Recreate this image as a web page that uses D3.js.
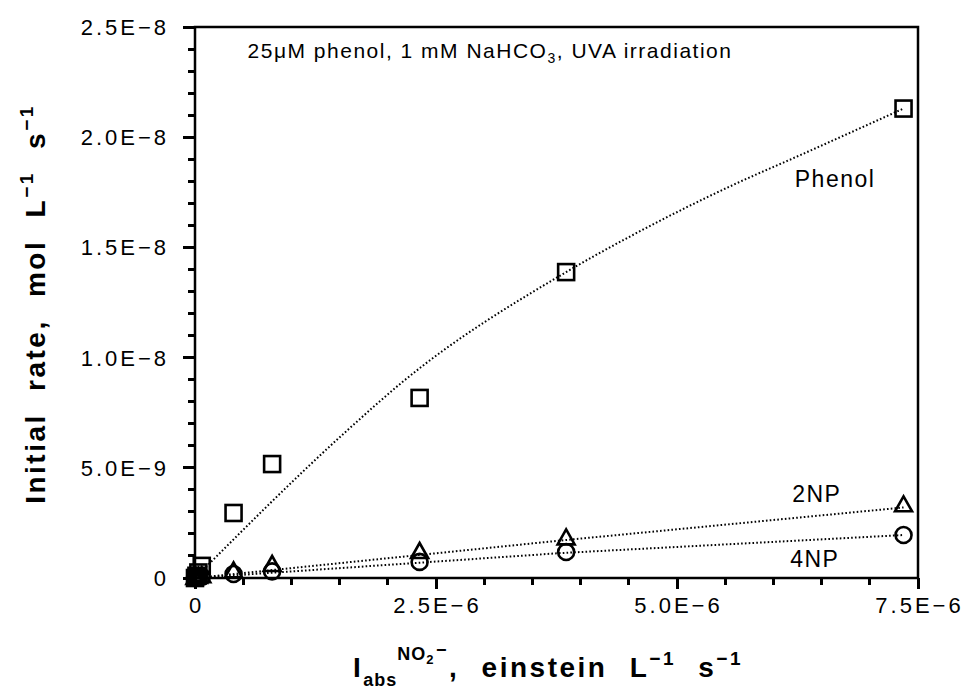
<!DOCTYPE html>
<html>
<head>
<meta charset="utf-8">
<script src="https://cdn.jsdelivr.net/npm/d3@7"></script>
<style>
  body { margin: 0; background: #fff; }
  text { font-family: "Liberation Sans", Arial, sans-serif; fill: #000; }
</style>
</head>
<body>
<svg id="chart" width="968" height="700"></svg>
<script>
// measured points, [I_abs, rate]
var phenolPts = [[0, 0], [0.015e-6, 0.1e-9], [0.035e-6, 0.25e-9], [0.07e-6, 0.55e-9],
                 [0.4e-6, 2.95e-9], [0.8e-6, 5.17e-9], [2.33e-6, 8.17e-9],
                 [3.85e-6, 1.388e-8], [7.35e-6, 2.13e-8]];
var np2Pts = [[0, 0], [0.015e-6, 0.02e-9], [0.035e-6, 0.05e-9], [0.07e-6, 0.08e-9],
              [0.4e-6, 0.3e-9], [0.8e-6, 0.59e-9], [2.33e-6, 1.18e-9],
              [3.85e-6, 1.8e-9], [7.35e-6, 3.3e-9]];
var np4Pts = [[0, 0], [0.015e-6, 0.02e-9], [0.035e-6, 0.04e-9], [0.07e-6, 0.06e-9],
              [0.4e-6, 0.18e-9], [0.8e-6, 0.3e-9], [2.33e-6, 0.73e-9],
              [3.85e-6, 1.18e-9], [7.35e-6, 1.95e-9]];

// fitted curves
var phenolFit = [[0, 0], [1.58e-6, 6.7e-9], [2.14e-6, 8.85e-9], [3.85e-6, 1.388e-8],
                 [4.54e-6, 1.556e-8], [5.58e-6, 1.783e-8], [6.28e-6, 1.919e-8], [7.35e-6, 2.13e-8]];
var np2Fit = [[0, 0], [3.79e-6, 1.7e-9], [7.35e-6, 3.2e-9]];
var np4Fit = [[0, 0], [3.79e-6, 1.13e-9], [7.35e-6, 1.95e-9]];

var xMajor = [0, 2.5e-6, 5.0e-6, 7.5e-6],
    xLabels = ["0", "2.5E\u22126", "5.0E\u22126", "7.5E\u22126"],
    yMajor = [0, 5e-9, 1e-8, 1.5e-8, 2e-8, 2.5e-8],
    yLabels = ["0", "5.0E\u22129", "1.0E\u22128", "1.5E\u22128", "2.0E\u22128", "2.5E\u22128"];

var seriesNames = ["Phenol", "2NP", "4NP"],
    seriesAt = [[6.64e-6, 1.774e-8], [6.45e-6, 3.45e-9], [6.43e-6, 0.5e-9]];

var svg = d3.select("#chart"),
    pLeft = 195, pRight = 918, pTop = 27, pBottom = 578;

var x = d3.scaleLinear().domain([0, 7.5e-6]).range([pLeft, pRight]),
    y = d3.scaleLinear().domain([0, 2.5e-8]).range([pBottom, pTop]);

// frame
svg.append("rect")
    .attr("x", pLeft).attr("y", pTop)
    .attr("width", pRight - pLeft).attr("height", pBottom - pTop)
    .attr("fill", "none").attr("stroke", "#000").attr("stroke-width", 2.5);

// axes, minor ticks every 5E-7 and 1E-9
var xAxis = d3.axisBottom(x).tickValues(d3.range(0, 16).map(function(i) { return i * 5e-7; }))
    .tickSize(10).tickFormat("").offset(0);
var gx = svg.append("g").attr("transform", "translate(0," + pBottom + ")").call(xAxis);
gx.selectAll(".tick line").attr("stroke", "#000").attr("stroke-width", 3)
    .attr("shape-rendering", "crispEdges")
    .attr("y2", function(d, i) { return i % 5 === 0 ? 11 : 7; });

var yAxis = d3.axisLeft(y).tickValues(d3.range(0, 26).map(function(i) { return i * 1e-9; }))
    .tickSize(10).tickFormat("").offset(0);
var gy = svg.append("g").attr("transform", "translate(" + pLeft + ",0)").call(yAxis);
gy.selectAll(".tick line").attr("stroke", "#000").attr("stroke-width", 3)
    .attr("shape-rendering", "crispEdges")
    .attr("x2", function(d, i) { return i % 5 === 0 ? -12 : -7; });
svg.selectAll(".domain").remove();

svg.append("g").selectAll("text").data(xMajor)
  .enter().append("text")
    .attr("x", function(d) { return x(d) + 1.5; })
    .attr("y", 613)
    .attr("text-anchor", "middle")
    .style("font-size", "22px").style("letter-spacing", "3px")
    .text(function(d, i) { return xLabels[i]; });

svg.append("g").selectAll("text").data(yMajor)
  .enter().append("text")
    .attr("x", 169)
    .attr("y", function(d) { return y(d) + 8; })
    .attr("text-anchor", "end")
    .style("font-size", "22px").style("letter-spacing", "3px")
    .text(function(d, i) { return yLabels[i]; });

// fit lines
var line = d3.line().x(function(d) { return x(d[0]); }).y(function(d) { return y(d[1]); });
[phenolFit, np2Fit, np4Fit].forEach(function(f, i) {
  svg.append("path")
      .attr("d", line.curve(i === 0 ? d3.curveMonotoneX : d3.curveLinear)(f))
      .attr("fill", "none").attr("stroke", "#000")
      .attr("stroke-width", 2).attr("stroke-dasharray", "1.6,2.2");
});

// markers
var mk = svg.append("g").attr("fill", "none").attr("stroke", "#000").attr("stroke-width", 2.6);
mk.selectAll(".sq").data(phenolPts).enter().append("rect")
    .attr("x", function(d) { return x(d[0]) - 8; })
    .attr("y", function(d) { return y(d[1]) - 8; })
    .attr("width", 16).attr("height", 16);
mk.selectAll(".tri").data(np2Pts).enter().append("path")
    .attr("transform", function(d) { return "translate(" + x(d[0]) + "," + y(d[1]) + ")"; })
    .attr("d", "M0,-9L8.5,6L-8.5,6Z");
mk.selectAll(".circ").data(np4Pts).enter().append("circle")
    .attr("cx", function(d) { return x(d[0]); })
    .attr("cy", function(d) { return y(d[1]); })
    .attr("r", 8);

// series labels
svg.append("g").selectAll("text").data(seriesNames)
  .enter().append("text")
    .attr("x", function(d, i) { return x(seriesAt[i][0]); })
    .attr("y", function(d, i) { return y(seriesAt[i][1]); })
    .attr("text-anchor", "middle")
    .style("font-size", "23px").style("letter-spacing", "1.5px")
    .text(function(d) { return d; });

// title inside plot
var title = svg.append("text").attr("x", 490).attr("y", 58)
    .attr("text-anchor", "middle")
    .style("font-size", "21px").style("letter-spacing", "1.5px");
title.append("tspan").text("25\u03bcM phenol, 1 mM NaHCO");
title.append("tspan").attr("dy", 5).style("font-size", "14px").text("3");
title.append("tspan").attr("dy", -5).text(", UVA irradiation");

// axis titles
var xt = svg.append("text").attr("x", 353).attr("y", 677)
    .style("font-size", "28px").style("font-weight", "bold")
    .style("letter-spacing", "2.5px").style("word-spacing", "12px");
xt.append("tspan").text("I");
xt.append("tspan").attr("dy", 9).style("font-size", "18px").style("letter-spacing", "1px").text("abs");
xt.append("tspan").attr("dy", -26).style("font-size", "18px").style("letter-spacing", "1px").text("NO");
xt.append("tspan").attr("dy", 4).style("font-size", "13px").text("2");
xt.append("tspan").attr("dy", -8).style("font-size", "18px").text("\u2212");
xt.append("tspan").attr("dy", 21).text(", einstein L");
xt.append("tspan").attr("dy", -12).style("font-size", "19px").text("\u22121");
xt.append("tspan").attr("dy", 12).text(" s");
xt.append("tspan").attr("dy", -12).style("font-size", "19px").text("\u22121");

var yt = svg.append("text")
    .attr("transform", "translate(45,304) rotate(-90)")
    .attr("text-anchor", "middle")
    .style("font-size", "28px").style("font-weight", "bold")
    .style("letter-spacing", "2.5px").style("word-spacing", "12px");
yt.append("tspan").text("Initial rate, mol L");
yt.append("tspan").attr("dy", -12).style("font-size", "19px").text("\u22121");
yt.append("tspan").attr("dy", 12).text("  s");
yt.append("tspan").attr("dy", -12).style("font-size", "19px").text("\u22121");
</script>
</body>
</html>
